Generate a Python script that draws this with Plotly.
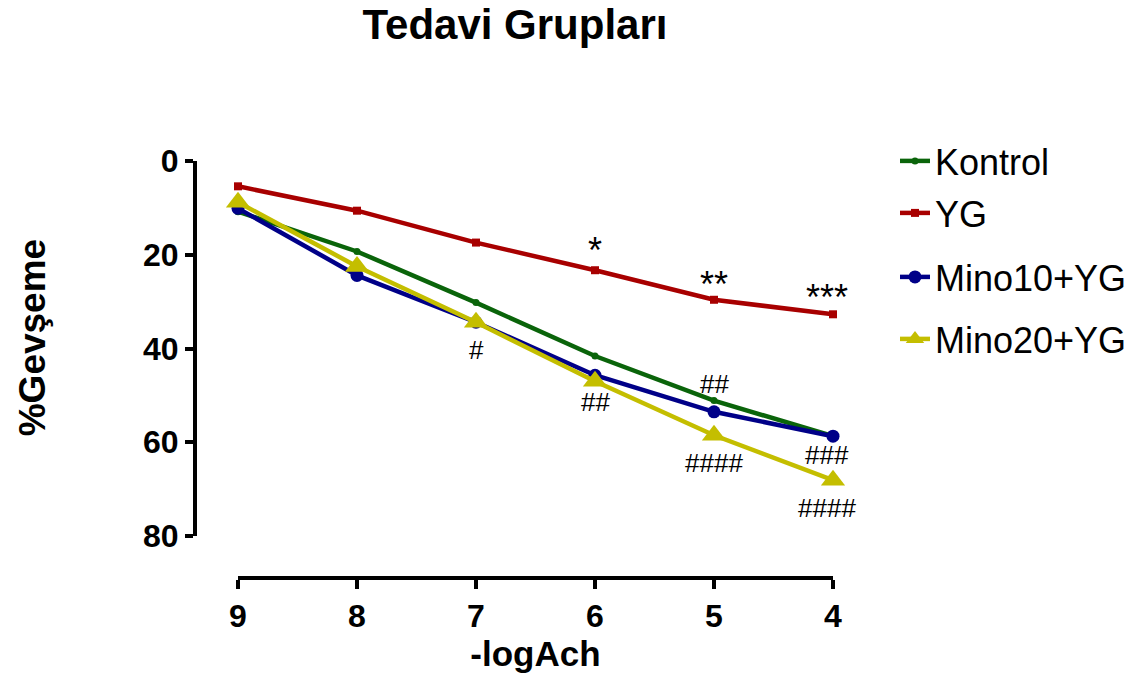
import plotly.graph_objects as go

# -log[Ach] concentrations
log_ach = [9, 8, 7, 6, 5, 4]

# % relaxation for each treatment group
kontrol = [10.8, 19.3, 30.2, 41.6, 51.1, 58.7]
yg = [5.4, 10.6, 17.4, 23.3, 29.6, 32.7]
mino10_yg = [10.1, 24.4, 34.4, 45.7, 53.5, 58.7]
mino20_yg = [8.8, 22.5, 34.4, 47.0, 58.5, 68.1]

# significance marks: (x, series, text, pixel offset from the point)
sig_marks = [
    (6, "yg", "*", -20),
    (5, "yg", "**", -15),
    (4, "yg", "***", -17),
    (7, "mino20", "#", 28),
    (6, "mino20", "##", 21),
    (5, "kontrol", "##", -17),
    (5, "mino20", "####", 28),
    (4, "mino10", "###", 19),
    (4, "mino20", "####", 28),
]

series = {
    "kontrol": kontrol,
    "yg": yg,
    "mino10": mino10_yg,
    "mino20": mino20_yg,
}

FONT = "Liberation Sans, Arial, sans-serif"

fig = go.Figure()

traces = [
    ("Kontrol", kontrol, "#0a640a", "circle", 7, "legend"),
    ("YG", yg, "#a80000", "square", 8, "legend2"),
    ("Mino10+YG", mino10_yg, "#000088", "circle", 13, "legend3"),
    ("Mino20+YG", mino20_yg, "#c4be00", "triangle-up", 21, "legend4"),
]

for name, vals, color, symbol, size, leg in traces:
    fig.add_trace(go.Scatter(
        x=log_ach, y=vals, name=name, mode="lines+markers",
        line=dict(color=color, width=4.5),
        marker=dict(color=color, symbol=symbol, size=size, line=dict(width=0)),
        cliponaxis=False, legend=leg, showlegend=True,
    ))

for x, key, text, off in sig_marks:
    idx = log_ach.index(x)
    is_hash = "#" in text
    fig.add_annotation(
        x=x, y=series[key][idx], xref="x", yref="y", text=text,
        showarrow=False, yshift=-off, xshift=-6 if x == 4 else 0,
        yanchor="middle",
        font=dict(family=FONT, size=26 if is_hash else 36, color="black"),
    )

# y-axis title placed as rotated text left of the tick labels
fig.add_annotation(
    text="<b>%Gevşeme</b>", xref="paper", yref="paper",
    x=(32 - 195) / 638, y=(578 - 338) / 417.5,
    xanchor="center", yanchor="middle", textangle=-90, showarrow=False,
    font=dict(family=FONT, size=37, color="black"),
)

# legend placement (one legend per group to allow uneven spacing)
leg_common = dict(
    xref="container", yref="container",
    x=895 / 1132, xanchor="left", yanchor="middle", bgcolor="rgba(0,0,0,0)",
    font=dict(family=FONT, size=36, color="black"), itemwidth=30,
)
legend_px = [161, 213, 277, 339]

fig.update_layout(
    width=1132, height=676,
    margin=dict(l=195, r=299, t=160.5, b=98, autoexpand=False),
    paper_bgcolor="white", plot_bgcolor="white",
    showlegend=True,
    title=dict(text="<b>Tedavi Grupları</b>", x=515 / 1132, xanchor="center",
               y=0.9645, yanchor="middle",
               font=dict(family=FONT, size=42, color="black")),
    legend=dict(y=1 - legend_px[0] / 676, **leg_common),
    legend2=dict(y=1 - legend_px[1] / 676, **leg_common),
    legend3=dict(y=1 - legend_px[2] / 676, **leg_common),
    legend4=dict(y=1 - legend_px[3] / 676, **leg_common),
    xaxis=dict(
        range=[9, 4], domain=[0.0674, 1], anchor="free", position=0,
        tickvals=log_ach, ticktext=[str(v) for v in log_ach],
        showline=True, linewidth=4, linecolor="black",
        ticks="outside", ticklen=9, tickwidth=4, tickcolor="black",
        showgrid=False, zeroline=False,
        tickfont=dict(family=FONT, size=32, color="black", weight="bold"),
        title=dict(text="<b>-logAch</b>", standoff=6,
                   font=dict(family=FONT, size=35, color="black")),
    ),
    yaxis=dict(
        range=[80, 0], domain=[0.1006, 1], anchor="free", position=0,
        tickvals=[0, 20, 40, 60, 80],
        showline=True, linewidth=4, linecolor="black",
        ticks="outside", ticklen=8, tickwidth=4, tickcolor="black",
        showgrid=False, zeroline=False, ticklabelstandoff=0,
        tickfont=dict(family=FONT, size=32, color="black", weight="bold"),
    ),
)

fig.write_html("out.html")
